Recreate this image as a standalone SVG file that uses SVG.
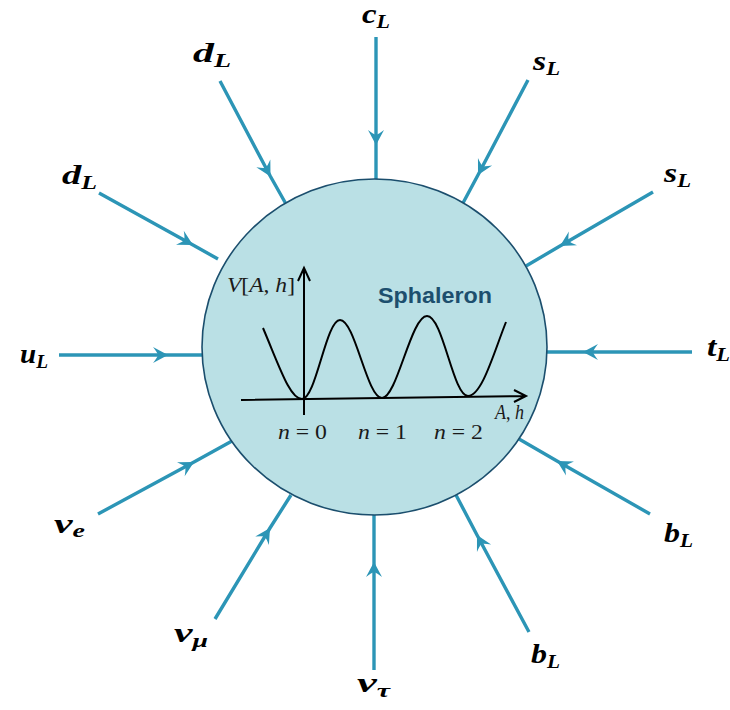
<svg xmlns="http://www.w3.org/2000/svg" width="730" height="710" viewBox="0 0 730 710">
<style>
.ln{fill:none;stroke:#2c95b6;stroke-width:3.4;marker-mid:url(#ah)}
.lb{font-family:"Liberation Serif",serif;font-weight:bold;font-style:italic;font-size:27px;fill:#000}
.sb{font-size:18px}
.ax{fill:none;stroke:#000;stroke-width:2}
.mt{font-family:"Liberation Serif",serif;font-size:20px;fill:#1a1a1a}
.it{font-style:italic}
</style>
<defs>
<marker id="ah" markerUnits="userSpaceOnUse" markerWidth="20" markerHeight="20" viewBox="-16 -10 20 20" refX="0" refY="0" orient="auto">
<path d="M0,0 L-15,-8 Q-11,-3 -10,0 Q-11,3 -15,8 Z" fill="#2c95b6"/>
</marker>
</defs>
<rect width="730" height="710" fill="#fff"/>
<g id="connectors">
<path class="ln" d="M376,37 L376,145 L376,180"/>
<path class="ln" d="M220,81 L270.5,176.5 L286,204"/>
<path class="ln" d="M99,193 L193,245 L218,259"/>
<path class="ln" d="M59,355 L168,355 L203,355"/>
<path class="ln" d="M98,514 L194,462 L232,441"/>
<path class="ln" d="M215,619 L270,528 L291,495"/>
<path class="ln" d="M374,670 L374,562 L374,514"/>
<path class="ln" d="M529,632 L477,535 L456,495"/>
<path class="ln" d="M650,514 L557,461 L519,439"/>
<path class="ln" d="M692,352 L583,352 L546,352"/>
<path class="ln" d="M653,192 L560,246 L526,266"/>
<path class="ln" d="M528,80 L478,175 L463,203"/>
</g>
<g id="sphaleron">
<ellipse cx="374.5" cy="347" rx="172.5" ry="168" fill="#bae0e5" stroke="#1b4e6d" stroke-width="1.6"/>
<path class="ax" d="M241,400 L526,396 M514,390 L526,396 L514,402"/>
<path class="ax" d="M304,415 L304,268 M298,281 L304,268 L310,281"/>
<path class="ax" d="M263,328 C280,368 290,399 302,399 C316,399 326,320 340,320 C355,320 367,398 382,398 C397,398 411,316 427,316 C443,316 453,396 468,396 C482,396 494,352 506,322"/>
<text x="227" y="292" class="mt" textLength="68" lengthAdjust="spacingAndGlyphs"><tspan class="it">V</tspan>[<tspan class="it">A</tspan>, <tspan class="it">h</tspan>]</text>
<text x="495" y="419" class="mt" font-size="18" textLength="29" lengthAdjust="spacingAndGlyphs"><tspan class="it">A</tspan>, <tspan class="it">h</tspan></text>
<text x="278" y="439" class="mt" textLength="49" lengthAdjust="spacingAndGlyphs"><tspan class="it">n</tspan> = 0</text>
<text x="358" y="439" class="mt" textLength="49" lengthAdjust="spacingAndGlyphs"><tspan class="it">n</tspan> = 1</text>
<text x="434" y="439" class="mt" textLength="49" lengthAdjust="spacingAndGlyphs"><tspan class="it">n</tspan> = 2</text>
<text x="378" y="303" font-family="Liberation Sans, Arial, sans-serif" font-weight="bold" font-size="22" fill="#1d4f6e" textLength="114" lengthAdjust="spacingAndGlyphs">Sphaleron</text>
</g>
<g id="cL"><text class="lb" x="362" y="23" textLength="28" lengthAdjust="spacingAndGlyphs">c<tspan class="sb" dy="5">L</tspan></text></g>
<g id="dL1"><text class="lb" x="193" y="62" textLength="38" lengthAdjust="spacingAndGlyphs">d<tspan class="sb" dy="5">L</tspan></text></g>
<g id="dL2"><text class="lb" x="62" y="184" textLength="35" lengthAdjust="spacingAndGlyphs">d<tspan class="sb" dy="5">L</tspan></text></g>
<g id="uL"><text class="lb" x="20" y="363" textLength="28" lengthAdjust="spacingAndGlyphs">u<tspan class="sb" dy="5">L</tspan></text></g>
<g id="nue"><text class="lb" x="54" y="533" textLength="31" lengthAdjust="spacingAndGlyphs">ν<tspan class="sb" dy="4">e</tspan></text></g>
<g id="numu"><text class="lb" x="174" y="642" textLength="34" lengthAdjust="spacingAndGlyphs">ν<tspan class="sb" dy="5">μ</tspan></text></g>
<g id="nutau"><text class="lb" x="357" y="692" textLength="33" lengthAdjust="spacingAndGlyphs">ν<tspan class="sb" dy="5">τ</tspan></text></g>
<g id="bL1"><text class="lb" x="531" y="663" textLength="29" lengthAdjust="spacingAndGlyphs">b<tspan class="sb" dy="5">L</tspan></text></g>
<g id="bL2"><text class="lb" x="664" y="542" textLength="29" lengthAdjust="spacingAndGlyphs">b<tspan class="sb" dy="5">L</tspan></text></g>
<g id="tL"><text class="lb" x="707" y="356" textLength="23" lengthAdjust="spacingAndGlyphs">t<tspan class="sb" dy="5">L</tspan></text></g>
<g id="sL1"><text class="lb" x="664" y="182" textLength="27" lengthAdjust="spacingAndGlyphs">s<tspan class="sb" dy="5">L</tspan></text></g>
<g id="sL2"><text class="lb" x="533" y="70" textLength="27" lengthAdjust="spacingAndGlyphs">s<tspan class="sb" dy="5">L</tspan></text></g>
</svg>
